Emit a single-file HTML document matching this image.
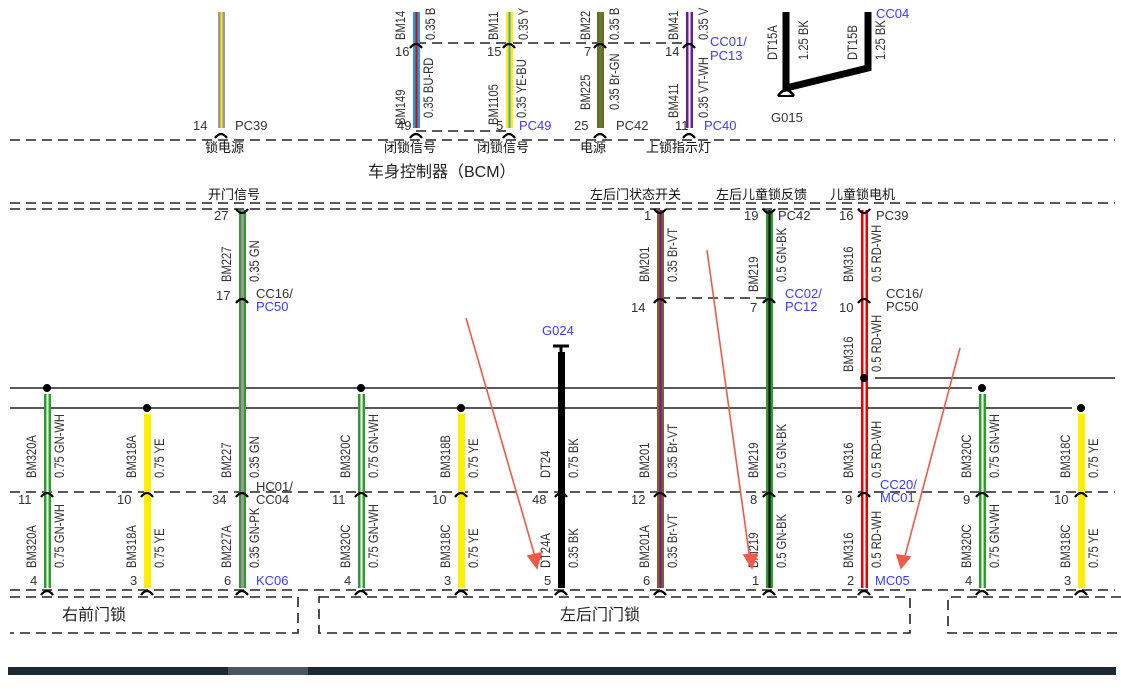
<!DOCTYPE html>
<html><head><meta charset="utf-8">
<style>
html,body{margin:0;padding:0;background:#fff;}
svg{display:block;}
text{font-family:"Liberation Sans","Noto Sans CJK SC",sans-serif;}
.n{font-size:13px;fill:#333;}
.b{font-size:13px;fill:#3a3aff;}
.v{font-size:14px;fill:#333;}
.c{font-size:13px;fill:#111;}
.d{stroke:#222;stroke-width:1.6;stroke-dasharray:10 6;fill:none;}
</style></head><body>
<svg width="1121" height="691" viewBox="0 0 1121 691" xmlns="http://www.w3.org/2000/svg">
<rect width="1121" height="691" fill="#fff"/>
<line class="d" x1="416" y1="43" x2="690" y2="43"/>
<line class="d" x1="416" y1="131" x2="509" y2="131"/>
<line class="d" x1="10" y1="140" x2="1115" y2="140"/>
<line class="d" x1="10" y1="203" x2="1115" y2="203"/>
<line class="d" x1="10" y1="209" x2="860" y2="209"/>
<line class="d" x1="660" y1="298" x2="769" y2="298"/>
<line class="d" x1="10" y1="492" x2="1115" y2="492"/>
<line class="d" x1="10" y1="590" x2="1115" y2="590"/>
<path class="d" d="M10 597 H298 V633 H10"/>
<path class="d" d="M319 597 H910 V633 H319 Z"/>
<path class="d" d="M1121 597 H948 V633 H1121"/>
<line x1="10" y1="388" x2="972" y2="388" stroke="#222" stroke-width="1.4"/>
<line x1="875" y1="378" x2="1115" y2="378" stroke="#222" stroke-width="1.4"/>
<line x1="10" y1="408" x2="1072" y2="408" stroke="#222" stroke-width="1.4"/>
<rect x="218" y="12" width="7" height="116" fill="#999"/><rect x="220.5" y="12" width="2" height="116" fill="#ffe600"/>
<rect x="413" y="12" width="7" height="116" fill="#1aa0e8"/><rect x="415.5" y="12" width="2" height="116" fill="#e00"/>
<rect x="506" y="12" width="7" height="116" fill="#ffee00"/><rect x="508.5" y="12" width="2" height="116" fill="#4aa0e0"/>
<rect x="597" y="12" width="7" height="116" fill="#8b5a2b"/><rect x="599.5" y="12" width="2" height="116" fill="#2a9d2a"/>
<rect x="686" y="12" width="7" height="116" fill="#6a1b9a"/><rect x="688.5" y="12" width="2" height="116" fill="#fff"/>
<path d="M786 12 V88 L868 68 V12" stroke="#000" stroke-width="7" fill="none"/>
<path d="M778 96 Q786 84 794 96" stroke="#000" stroke-width="2.5" fill="none"/><line x1="778" y1="96" x2="794" y2="96" stroke="#000" stroke-width="2"/>
<text x="771" y="122" class="n">G015</text>
<g class="v">
<text transform="translate(777,60) rotate(-90) scale(0.8,1)">DT15A</text>
<text transform="translate(808,60) rotate(-90) scale(0.8,1)">1.25 BK</text>
<text transform="translate(857,60) rotate(-90) scale(0.8,1)">DT15B</text>
<text transform="translate(885,60) rotate(-90) scale(0.8,1)">1.25 BK</text>
</g>
<text x="876" y="18" class="b">CC04</text>
<g class="v">
<text transform="translate(405,40) rotate(-90) scale(0.8,1)">BM14</text><text transform="translate(435,40) rotate(-90) scale(0.8,1)">0.35 B</text>
<text transform="translate(405,125) rotate(-90) scale(0.8,1)">BM149</text><text transform="translate(433,118) rotate(-90) scale(0.8,1)">0.35 BU-RD</text>
<text transform="translate(498,40) rotate(-90) scale(0.8,1)">BM11</text><text transform="translate(528,40) rotate(-90) scale(0.8,1)">0.35 Y</text>
<text transform="translate(498,125) rotate(-90) scale(0.8,1)">BM1105</text><text transform="translate(526,118) rotate(-90) scale(0.8,1)">0.35 YE-BU</text>
<text transform="translate(590,40) rotate(-90) scale(0.8,1)">BM22</text><text transform="translate(619,40) rotate(-90) scale(0.8,1)">0.35 B</text>
<text transform="translate(590,110) rotate(-90) scale(0.8,1)">BM225</text><text transform="translate(619,110) rotate(-90) scale(0.8,1)">0.35 Br-GN</text>
<text transform="translate(678,40) rotate(-90) scale(0.8,1)">BM41</text><text transform="translate(708,40) rotate(-90) scale(0.8,1)">0.35 V</text>
<text transform="translate(678,118) rotate(-90) scale(0.8,1)">BM411</text><text transform="translate(708,118) rotate(-90) scale(0.8,1)">0.35 VT-WH</text>
</g>
<text x="193" y="130" class="n">14</text><text x="235" y="130" class="n">PC39</text>
<text x="395" y="56" class="n">16</text><text x="397" y="130" class="n">49</text>
<text x="487" y="56" class="n">15</text><text x="496" y="130" class="n">5</text><text x="519" y="130" class="b">PC49</text>
<text x="584" y="56" class="n">7</text><text x="574" y="130" class="n">25</text><text x="616" y="130" class="n">PC42</text>
<text x="665" y="56" class="n">14</text><text x="675" y="130" class="n">11</text><text x="704" y="130" class="b">PC40</text>
<text x="710" y="46" class="b">CC01/</text><text x="710" y="60" class="b">PC13</text>
<text x="205" y="152" class="c">锁电源</text>
<text x="384" y="152" class="c">闭锁信号</text>
<text x="477" y="152" class="c">闭锁信号</text>
<text x="580" y="152" class="c">电源</text>
<text x="646" y="152" class="c">上锁指示灯</text>
<text x="368" y="177" style="font-size:16px;fill:#222">车身控制器（BCM）</text>
<text x="208" y="199" class="c">开门信号</text>
<text x="590" y="199" class="c">左后门状态开关</text>
<text x="716" y="199" class="c">左后儿童锁反馈</text>
<text x="830" y="199" class="c">儿童锁电机</text>
<rect x="239" y="210" width="7" height="378" fill="#2a9d2a"/><rect x="241" y="210" width="3" height="378" fill="#999"/>
<rect x="657" y="210" width="7" height="378" fill="#8b5a2b"/><rect x="659.5" y="210" width="2" height="378" fill="#6a1b9a"/>
<rect x="766" y="210" width="7" height="378" fill="#2a9d2a"/><rect x="768.5" y="210" width="2" height="378" fill="#000"/>
<rect x="861" y="210" width="7" height="378" fill="#e00"/><rect x="863.5" y="210" width="2" height="378" fill="#fff"/>
<rect x="558" y="352" width="7" height="236" fill="#000"/>
<path d="M553 346 H569 M561 346 V352" stroke="#000" stroke-width="3"/>
<text x="542" y="335" class="b">G024</text>
<g>
<rect x="44" y="394" width="7" height="194" fill="#2a9d2a"/><rect x="46.5" y="394" width="2" height="194" fill="#fff"/>
<rect x="144" y="414" width="7" height="174" fill="#ffee00"/>
<rect x="358" y="394" width="7" height="194" fill="#2a9d2a"/><rect x="360.5" y="394" width="2" height="194" fill="#fff"/>
<rect x="458" y="414" width="7" height="174" fill="#ffee00"/>
<rect x="979" y="394" width="7" height="194" fill="#2a9d2a"/><rect x="981.5" y="394" width="2" height="194" fill="#fff"/>
<rect x="1078" y="414" width="7" height="174" fill="#ffee00"/>
</g>
<g fill="#000">
<circle cx="47" cy="388" r="4"/><circle cx="361" cy="388" r="4"/><circle cx="982" cy="388" r="4"/>
<circle cx="147" cy="408" r="4"/><circle cx="461" cy="408" r="4"/><circle cx="1081" cy="408" r="4"/>
<circle cx="864" cy="378" r="4"/>
</g>
<g stroke="#000" stroke-width="2.2" fill="none">
<path d="M410 48 Q416 40 422 48"/><path d="M503 48 Q509 40 515 48"/><path d="M594 48 Q600 40 606 48"/><path d="M683 48 Q689 40 695 48"/>
<path d="M215 138 Q221 130 227 138"/><path d="M410 138 Q416 130 422 138"/><path d="M503 138 Q509 130 515 138"/><path d="M594 138 Q600 130 606 138"/><path d="M683 138 Q689 130 695 138"/>
<path d="M236 209 Q242 217 248 209"/><path d="M654 209 Q660 217 666 209"/><path d="M763 209 Q769 217 775 209"/><path d="M858 209 Q864 217 870 209"/>
<path d="M236 303 Q242 295 248 303"/><path d="M654 303 Q660 295 666 303"/><path d="M763 303 Q769 295 775 303"/><path d="M858 303 Q864 295 870 303"/>
<path d="M41 497 Q47 489 53 497"/><path d="M141 497 Q147 489 153 497"/><path d="M236 497 Q242 489 248 497"/><path d="M355 497 Q361 489 367 497"/><path d="M455 497 Q461 489 467 497"/><path d="M555 497 Q561 489 567 497"/><path d="M654 497 Q660 489 666 497"/><path d="M763 497 Q769 489 775 497"/><path d="M858 497 Q864 489 870 497"/><path d="M976 497 Q982 489 988 497"/><path d="M1075 497 Q1081 489 1087 497"/>
<path d="M41 595 Q47 587 53 595"/><path d="M141 595 Q147 587 153 595"/><path d="M236 595 Q242 587 248 595"/><path d="M355 595 Q361 587 367 595"/><path d="M455 595 Q461 587 467 595"/><path d="M555 595 Q561 587 567 595"/><path d="M654 595 Q660 587 666 595"/><path d="M763 595 Q769 587 775 595"/><path d="M858 595 Q864 587 870 595"/><path d="M976 595 Q982 587 988 595"/><path d="M1075 595 Q1081 587 1087 595"/>
</g>
<text x="214" y="220" class="n">27</text><text x="216" y="300" class="n">17</text>
<text x="256" y="298" class="n">CC16/</text><text x="256" y="311" class="b">PC50</text>
<text x="644" y="220" class="n">1</text><text x="631" y="312" class="n">14</text>
<text x="744" y="220" class="n">19</text><text x="778" y="220" class="n">PC42</text>
<text x="750" y="312" class="n">7</text><text x="785" y="298" class="b">CC02/</text><text x="785" y="311" class="b">PC12</text>
<text x="839" y="220" class="n">16</text><text x="876" y="220" class="n">PC39</text>
<text x="839" y="312" class="n">10</text><text x="886" y="298" class="n">CC16/</text><text x="886" y="311" class="n">PC50</text>
<g class="v">
<text transform="translate(231,282) rotate(-90) scale(0.8,1)">BM227</text><text transform="translate(259,282) rotate(-90) scale(0.8,1)">0.35 GN</text>
<text transform="translate(649,282) rotate(-90) scale(0.8,1)">BM201</text><text transform="translate(677,282) rotate(-90) scale(0.8,1)">0.35 Br-VT</text>
<text transform="translate(758,292) rotate(-90) scale(0.8,1)">BM219</text><text transform="translate(786,282) rotate(-90) scale(0.8,1)">0.5 GN-BK</text>
<text transform="translate(853,282) rotate(-90) scale(0.8,1)">BM316</text><text transform="translate(881,282) rotate(-90) scale(0.8,1)">0.5 RD-WH</text>
<text transform="translate(853,372) rotate(-90) scale(0.8,1)">BM316</text><text transform="translate(881,372) rotate(-90) scale(0.8,1)">0.5 RD-WH</text>
</g>
<g class="v">
<text transform="translate(36,478) rotate(-90) scale(0.8,1)">BM320A</text><text transform="translate(64,478) rotate(-90) scale(0.8,1)">0.75 GN-WH</text>
<text transform="translate(136,478) rotate(-90) scale(0.8,1)">BM318A</text><text transform="translate(164,478) rotate(-90) scale(0.8,1)">0.75 YE</text>
<text transform="translate(231,478) rotate(-90) scale(0.8,1)">BM227</text><text transform="translate(259,478) rotate(-90) scale(0.8,1)">0.35 GN</text>
<text transform="translate(350,478) rotate(-90) scale(0.8,1)">BM320C</text><text transform="translate(378,478) rotate(-90) scale(0.8,1)">0.75 GN-WH</text>
<text transform="translate(450,478) rotate(-90) scale(0.8,1)">BM318B</text><text transform="translate(478,478) rotate(-90) scale(0.8,1)">0.75 YE</text>
<text transform="translate(550,478) rotate(-90) scale(0.8,1)">DT24</text><text transform="translate(578,478) rotate(-90) scale(0.8,1)">0.75 BK</text>
<text transform="translate(649,478) rotate(-90) scale(0.8,1)">BM201</text><text transform="translate(677,478) rotate(-90) scale(0.8,1)">0.35 Br-VT</text>
<text transform="translate(758,478) rotate(-90) scale(0.8,1)">BM219</text><text transform="translate(786,478) rotate(-90) scale(0.8,1)">0.5 GN-BK</text>
<text transform="translate(853,478) rotate(-90) scale(0.8,1)">BM316</text><text transform="translate(881,478) rotate(-90) scale(0.8,1)">0.5 RD-WH</text>
<text transform="translate(971,478) rotate(-90) scale(0.8,1)">BM320C</text><text transform="translate(999,478) rotate(-90) scale(0.8,1)">0.75 GN-WH</text>
<text transform="translate(1070,478) rotate(-90) scale(0.8,1)">BM318C</text><text transform="translate(1098,478) rotate(-90) scale(0.8,1)">0.75 YE</text>
<text transform="translate(36,568) rotate(-90) scale(0.8,1)">BM320A</text><text transform="translate(64,568) rotate(-90) scale(0.8,1)">0.75 GN-WH</text>
<text transform="translate(136,568) rotate(-90) scale(0.8,1)">BM318A</text><text transform="translate(164,568) rotate(-90) scale(0.8,1)">0.75 YE</text>
<text transform="translate(231,568) rotate(-90) scale(0.8,1)">BM227A</text><text transform="translate(259,568) rotate(-90) scale(0.8,1)">0.35 GN-PK</text>
<text transform="translate(350,568) rotate(-90) scale(0.8,1)">BM320C</text><text transform="translate(378,568) rotate(-90) scale(0.8,1)">0.75 GN-WH</text>
<text transform="translate(450,568) rotate(-90) scale(0.8,1)">BM318C</text><text transform="translate(478,568) rotate(-90) scale(0.8,1)">0.75 YE</text>
<text transform="translate(550,568) rotate(-90) scale(0.8,1)">DT24A</text><text transform="translate(578,568) rotate(-90) scale(0.8,1)">0.35 BK</text>
<text transform="translate(649,568) rotate(-90) scale(0.8,1)">BM201A</text><text transform="translate(677,568) rotate(-90) scale(0.8,1)">0.35 Br-VT</text>
<text transform="translate(758,568) rotate(-90) scale(0.8,1)">BM219</text><text transform="translate(786,568) rotate(-90) scale(0.8,1)">0.5 GN-BK</text>
<text transform="translate(853,568) rotate(-90) scale(0.8,1)">BM316</text><text transform="translate(881,568) rotate(-90) scale(0.8,1)">0.5 RD-WH</text>
<text transform="translate(971,568) rotate(-90) scale(0.8,1)">BM320C</text><text transform="translate(999,568) rotate(-90) scale(0.8,1)">0.75 GN-WH</text>
<text transform="translate(1070,568) rotate(-90) scale(0.8,1)">BM318C</text><text transform="translate(1098,568) rotate(-90) scale(0.8,1)">0.75 YE</text>
</g>
<text x="18" y="504" class="n">11</text><text x="117" y="504" class="n">10</text><text x="212" y="504" class="n">34</text>
<text x="256" y="491" class="n">HC01/</text><text x="256" y="504" class="n">CC04</text>
<text x="332" y="504" class="n">11</text><text x="432" y="504" class="n">10</text><text x="532" y="504" class="n">48</text>
<text x="631" y="504" class="n">12</text><text x="750" y="504" class="n">8</text><text x="845" y="504" class="n">9</text>
<text x="880" y="489" class="b">CC20/</text><text x="880" y="502" class="b">MC01</text>
<text x="963" y="504" class="n">9</text><text x="1054" y="504" class="n">10</text>
<text x="30" y="585" class="n">4</text><text x="130" y="585" class="n">3</text><text x="224" y="585" class="n">6</text><text x="256" y="585" class="b">KC06</text>
<text x="344" y="585" class="n">4</text><text x="444" y="585" class="n">3</text><text x="544" y="585" class="n">5</text>
<text x="643" y="585" class="n">6</text><text x="752" y="585" class="n">1</text><text x="847" y="585" class="n">2</text><text x="875" y="585" class="b">MC05</text>
<text x="965" y="585" class="n">4</text><text x="1064" y="585" class="n">3</text>
<text x="62" y="620" style="font-size:16px;fill:#222">右前门锁</text>
<text x="560" y="620" style="font-size:16px;fill:#222">左后门门锁</text>
<g stroke="#f05a48" stroke-width="1.6" fill="#f05a48">
<line x1="466" y1="318" x2="536" y2="560"/><path d="M537 568 L528 556 L541 553 Z"/>
<line x1="707" y1="250" x2="750" y2="560"/><path d="M752 568 L744 555 L757 554 Z"/>
<line x1="960" y1="348" x2="904" y2="560"/><path d="M901 568 L897 555 L910 557 Z"/>
</g>
<rect x="8" y="667" width="1108" height="8" fill="#1e2a33"/>
<rect x="228" y="667" width="80" height="8" fill="#4a5560"/>
</svg>
</body></html>
